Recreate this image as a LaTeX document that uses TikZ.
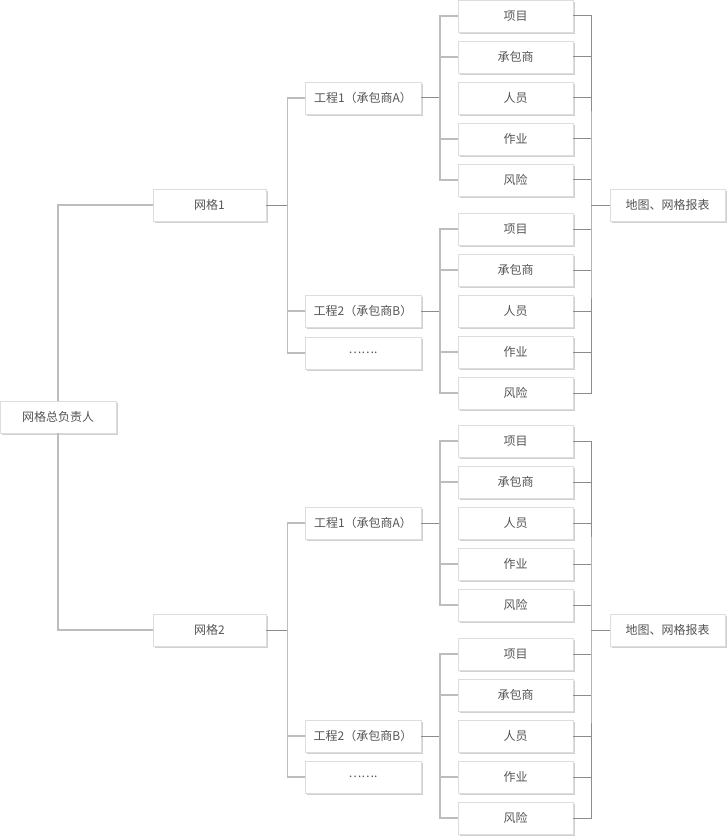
\documentclass[tikz,border=0pt]{standalone}
\usepackage{fontspec}
\setmainfont{Noto Sans CJK SC}
\usetikzlibrary{shadows,calc}
\definecolor{txt}{HTML}{555555}
\definecolor{boxline}{HTML}{DDDDDD}
\definecolor{lightline}{HTML}{BDBDBD}
\definecolor{darkline}{HTML}{8C8C8C}
\tikzset{
  box/.style={draw=boxline, line width=0.8pt, fill=white, text=txt,
    minimum height=32pt, inner sep=0pt, font=\fontsize{12}{14}\selectfont,
    drop shadow={shadow xshift=2pt, shadow yshift=-2pt, fill=black!18, opacity=1}},
  light/.style={draw=lightline, line width=1.6pt},
  dark/.style={draw=darkline, line width=1pt},
}
\begin{document}
\begin{tikzpicture}[x=1pt,y=-1pt]
\useasboundingbox (0,0) rectangle (727,837);
% root
\node[box, minimum width=116pt] (root) at (58,417) {网格总负责人};
% grids
\node[box, minimum width=113pt] (w1) at (209.5,205) {网格1};
\node[box, minimum width=113pt] (w2) at (209.5,630) {网格2};
% projects
\foreach \g/\ya/\yb/\yd in {1/98/311/353, 2/523/736/777}{
  \node[box, minimum width=116pt] (e\g1) at (363,\ya) {工程1（承包商A）};
  \node[box, minimum width=116pt] (e\g2) at (363,\yb) {工程2（承包商B）};
  \node[box, minimum width=116pt] (d\g) at (363,\yd) {…….};
}
% leaves
\foreach \g/\p/\ys in {1/1/16, 1/2/229, 2/1/441, 2/2/654}{
  \foreach \k/\t in {0/项目, 1/承包商, 2/人员, 3/作业, 4/风险}{
    \node[box, minimum width=115pt] (l\g\p\k) at (515.5,\ys+41*\k) {\t};
  }
}
% maps
\node[box, minimum width=115pt] (m1) at (667.5,205) {地图、网格报表};
\node[box, minimum width=115pt] (m2) at (667.5,630) {地图、网格报表};

% connectors: root to grids
\draw[light] (root.north) |- (w1.west);
\draw[light] (root.south) |- (w2.west);

\foreach \g in {1,2}{
  % grid to projects
  \coordinate (b\g) at ($(w\g.east)+(21,0)$);
  \draw[dark] (w\g.east) -- (b\g);
  \draw[light] (e\g1.west) -| (b\g) |- (d\g.west);
  \draw[light] (b\g |- e\g2.west) -- (e\g2.west);
  % projects to leaves
  \foreach \p in {1,2}{
    \coordinate (c\g\p) at (440,0 |- e\g\p.east);
    \draw[dark] (e\g\p.east) -- (c\g\p);
    \draw[light] (l\g\p0.west) -| (c\g\p) |- (l\g\p4.west);
    \foreach \k in {1,3}{
      \draw[light] (c\g\p |- l\g\p\k.west) -- (l\g\p\k.west);
    }
  }
  % leaves to map
  \coordinate (r\g) at (591,0 |- m\g.west);
  \draw[dark] (l\g10.east) -| (r\g) |- (l\g24.east);
  \foreach \p in {1,2}{
    \foreach \k in {0,...,4}{
      \draw[dark] (l\g\p\k.east) -- (r\g |- l\g\p\k.east);
    }
  }
  \draw[dark] (r\g) -- (m\g.west);
}
\end{tikzpicture}
\end{document}
